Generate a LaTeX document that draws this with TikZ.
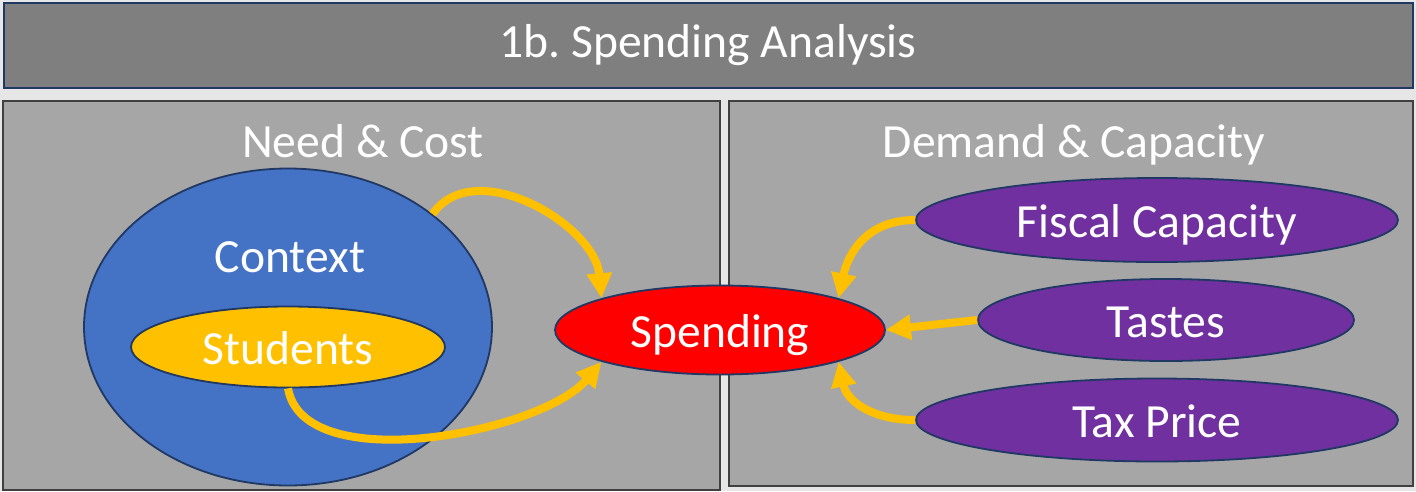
\documentclass[tikz,border=0pt]{standalone}
\usepackage{fontspec}
\setmainfont{Carlito}
\usepackage{tikz}
\usetikzlibrary{positioning,calc}
\usetikzlibrary{shapes.geometric,arrows.meta}
\definecolor{pagegray}{HTML}{E7E6E6}
\definecolor{bargray}{HTML}{7F7F7F}
\definecolor{panelgray}{HTML}{A6A6A6}
\definecolor{paneledge}{HTML}{404040}
\definecolor{navyedge}{HTML}{1F3864}
\definecolor{ctxblue}{HTML}{4472C4}
\definecolor{gold}{HTML}{FFC000}
\definecolor{spendred}{HTML}{FF0000}
\definecolor{demandpurple}{HTML}{7030A0}
\frenchspacing

\begin{document}
\begin{tikzpicture}[x=1pt,y=-1pt,
    every node/.style={font=\fontsize{47.6}{57}\selectfont,text=white},
    panel/.style={draw=paneledge,line width=2.7pt,fill=panelgray,inner sep=0pt},
    blob/.style={ellipse,draw=navyedge,line width=1.8pt,inner sep=0pt,text height=34pt,text depth=0pt},
    feed/.style={draw=gold,line width=8pt,-{Triangle[length=25pt,width=24pt]}}]
    \useasboundingbox (0,0) rectangle (1416,491);
    \fill [pagegray] (0,0) rectangle (1416,491);

    \node [draw=navyedge,line width=2pt,fill=bargray,inner sep=0pt,minimum width=1409pt,minimum height=85pt] (title) at (708,45) {1b. Spending Analysis};

    \node [panel,minimum width=717pt,minimum height=389pt] (needpanel) at (361.5,295.5) {};
    \node [panel,minimum width=684pt,minimum height=385pt] (demandpanel) at (1071,293.5) {};
    \node [anchor=base] (needhead) at (363,157) {Need \& Cost};
    \node [anchor=base] (demandhead) at (1074,157) {Demand \& Capacity};

    % need side
    \node [blob,fill=ctxblue,minimum width=408pt,minimum height=317pt] (context) at (288,327) {};
    \node [anchor=base] (contextlabel) at (290,272) {Context};
    \node [blob,fill=gold,minimum width=314pt,minimum height=81pt] (students) at (288,347) {Students};

    \node [blob,fill=spendred,minimum width=330pt,minimum height=89pt] (spending) at (720,330) {Spending};

    % demand side
    \node [blob,fill=demandpurple,minimum width=482pt,minimum height=84pt] (fiscal) at (1157,220) {Fiscal Capacity};
    \node [blob,fill=demandpurple,minimum width=376pt,minimum height=82pt] (tastes) at (1166,320) {Tastes};
    \node [blob,fill=demandpurple,minimum width=482pt,minimum height=83pt] (taxprice) at (1157,420) {Tax Price};

    \draw [feed] (context.38) to [out=55,in=95,looseness=1.0] (spending.165);
    \draw [feed] (students.south) to [out=-80,in=-130,looseness=0.75] (spending.195);
    \draw [feed] (fiscal.west) to [out=180,in=78,looseness=1.1] (spending.15);
    \draw [feed] (tastes.west) -- (spending.east);
    \draw [feed] (taxprice.west) to [out=180,in=-78,looseness=1.1] (spending.-15);
\end{tikzpicture}
\end{document}
